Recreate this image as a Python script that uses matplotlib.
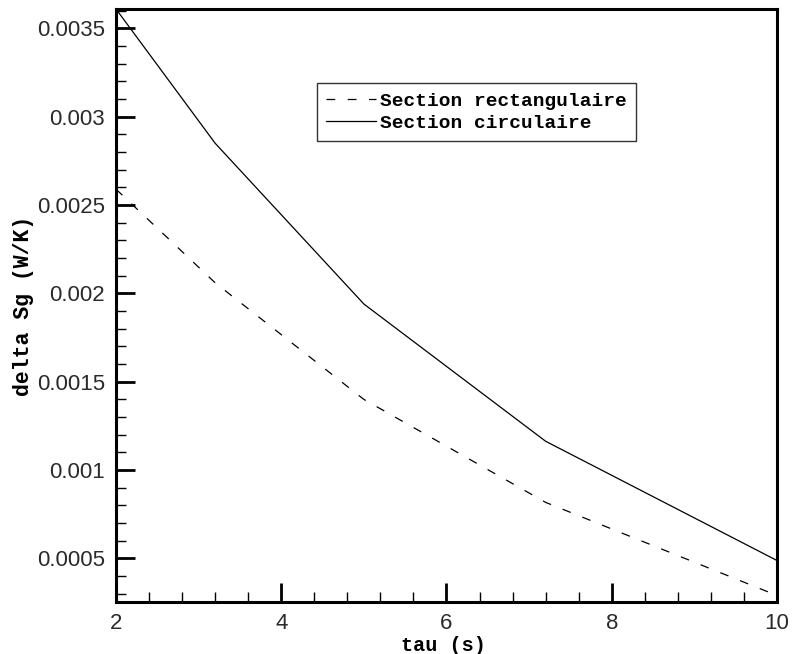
import matplotlib
matplotlib.use("Agg")
import matplotlib.pyplot as plt
from matplotlib.ticker import MultipleLocator, FuncFormatter

# values
tau = [2.0, 3.2, 5.0, 7.2, 10.0]
sg_rect = [0.00259, 0.00206, 0.00140, 0.000817, 0.00029]
sg_circ = [0.00361, 0.00285, 0.00194, 0.001163, 0.000488]

labels = ["Section rectangulaire", "Section circulaire"]

fig = plt.figure(figsize=(7.93, 6.54), dpi=100)
ax = fig.add_axes([0.1463, 0.0795, 0.8335, 0.9067])

ax.plot(tau, sg_rect, color="black", linewidth=0.9, dashes=(7, 10), label=labels[0])
ax.plot(tau, sg_circ, color="black", linewidth=0.9, label=labels[1])

ax.set_xlim(2, 10)
ax.set_ylim(0.000253, 0.00361)

ax.xaxis.set_major_locator(MultipleLocator(2))
ax.xaxis.set_minor_locator(MultipleLocator(0.4))
ax.yaxis.set_major_locator(MultipleLocator(0.0005))
ax.yaxis.set_minor_locator(MultipleLocator(0.0001))

ax.xaxis.set_major_formatter(FuncFormatter(lambda v, p: f"{v:g}"))
ax.yaxis.set_major_formatter(FuncFormatter(lambda v, p: f"{v:.4f}".rstrip("0")))

ax.tick_params(which="both", direction="in", top=False, right=False,
               labelsize=16, labelcolor="#2a2a2a", pad=8)
ax.tick_params(which="major", length=14, width=2)
ax.tick_params(which="minor", length=7, width=1)
for lab in ax.get_xticklabels() + ax.get_yticklabels():
    lab.set_family("Liberation Sans")

for side in ["left", "bottom", "top", "right"]:
    ax.spines[side].set_linewidth(2.2)

ax.set_xlabel("tau (s)", family="Liberation Mono", fontweight="bold", fontsize=14.5, labelpad=0)
ax.xaxis.set_label_coords(0.495, -0.058)
ax.set_ylabel("delta Sg (W/K)", family="Liberation Mono", fontweight="bold", fontsize=15.5, labelpad=2)

leg = ax.legend(loc="upper left", bbox_to_anchor=(0.304, 0.875), borderaxespad=0,
                frameon=True, fancybox=False, edgecolor="black", handlelength=2.6,
                handletextpad=0.2, borderpad=0.45, labelspacing=0.25,
                prop={"family": "Liberation Mono", "weight": "bold", "size": 14})
leg.get_frame().set_linewidth(1.0)

fig.savefig("out.png", dpi=100)
